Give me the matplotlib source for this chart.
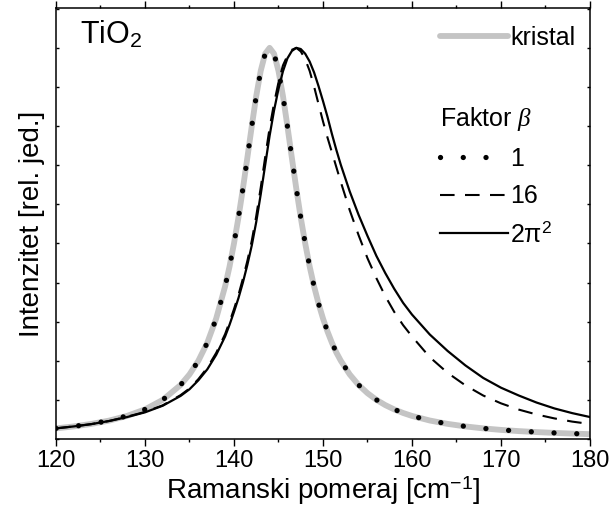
#!/usr/bin/env python3
import matplotlib
matplotlib.use('Agg')
import matplotlib.pyplot as plt
from matplotlib.ticker import MultipleLocator

plt.rcParams['font.family'] = ['Liberation Sans', 'DejaVu Sans']
plt.rcParams['mathtext.fontset'] = 'custom'
plt.rcParams['mathtext.rm'] = 'Liberation Sans'
plt.rcParams['mathtext.it'] = 'Liberation Serif:italic'
plt.rcParams['mathtext.bf'] = 'Liberation Sans:bold'

# Raman shift grid [cm^-1]
shift = [120, 122, 124, 126, 128, 130, 132, 134, 135, 136, 137, 138, 139,
         139.5, 140, 140.5, 141, 141.5, 142, 142.5, 143, 143.5, 144, 144.5,
         145, 145.5, 146, 146.5, 147, 147.5, 148, 148.5, 149, 149.5, 150,
         150.5, 151, 151.5, 152, 153, 154, 155, 156, 157, 158, 159, 160,
         162, 164, 166, 168, 170, 172, 174, 176, 178, 180]

# intensities (normalized)
kristal = [0.027, 0.032, 0.0385, 0.047, 0.059, 0.0755, 0.100, 0.138, 0.165,
           0.200, 0.246, 0.308, 0.390, 0.441, 0.500, 0.566, 0.640, 0.719,
           0.800, 0.877, 0.941, 0.985, 1.000, 0.985, 0.941, 0.877, 0.800,
           0.719, 0.640, 0.566, 0.500, 0.441, 0.390, 0.346, 0.308, 0.275,
           0.246, 0.221, 0.200, 0.165, 0.138, 0.117, 0.100, 0.0865, 0.0755,
           0.0664, 0.0588, 0.0471, 0.0385, 0.032, 0.027, 0.0231, 0.020,
           0.0175, 0.0154, 0.0137, 0.0122]

beta_1 = [0.027, 0.032, 0.0385, 0.047, 0.059, 0.0755, 0.100, 0.138, 0.165,
          0.200, 0.246, 0.308, 0.390, 0.441, 0.500, 0.566, 0.640, 0.719,
          0.800, 0.877, 0.941, 0.985, 1.000, 0.985, 0.941, 0.877, 0.800,
          0.719, 0.640, 0.566, 0.500, 0.441, 0.390, 0.346, 0.308, 0.275,
          0.246, 0.221, 0.200, 0.165, 0.138, 0.117, 0.100, 0.0865, 0.0755,
          0.0664, 0.0588, 0.0471, 0.0385, 0.032, 0.027, 0.0231, 0.020,
          0.0175, 0.0154, 0.0137, 0.0122]

beta_16 = [0.027, 0.032, 0.038, 0.046, 0.057, 0.069, 0.086, 0.112, 0.129,
           0.153, 0.182, 0.220, 0.268, 0.299, 0.332, 0.368, 0.410, 0.455,
           0.507, 0.570, 0.642, 0.720, 0.795, 0.858, 0.912, 0.955, 0.980,
           0.995, 1.000, 0.991, 0.971, 0.941, 0.901, 0.856, 0.812, 0.771,
           0.733, 0.695, 0.657, 0.585, 0.521, 0.462, 0.411, 0.365, 0.325,
           0.291, 0.262, 0.209, 0.169, 0.137, 0.111, 0.091, 0.075, 0.0625,
           0.0525, 0.0443, 0.0382]

beta_2pi2 = [0.027, 0.032, 0.038, 0.046, 0.056, 0.068, 0.085, 0.110, 0.127,
             0.150, 0.178, 0.215, 0.262, 0.292, 0.325, 0.360, 0.400, 0.445,
             0.495, 0.555, 0.625, 0.700, 0.775, 0.840, 0.895, 0.940, 0.973,
             0.992, 1.000, 0.997, 0.985, 0.965, 0.937, 0.902, 0.864, 0.824,
             0.780, 0.739, 0.701, 0.633, 0.573, 0.519, 0.468, 0.424, 0.384,
             0.348, 0.318, 0.267, 0.225, 0.188, 0.156, 0.131, 0.111, 0.093,
             0.078, 0.066, 0.056]

fig = plt.figure(figsize=(6.1, 5.17), dpi=100)
ax = fig.add_axes([0.0918, 0.151, 0.8754, 0.8336])

k, = ax.plot(shift, kristal, color='#c4c4c4', lw=4.2, solid_capstyle='round')
d1, = ax.plot(shift, beta_1, color='black', lw=3.8, linestyle=(0, (0.01, 4.3)),
              dash_capstyle='round')
d16, = ax.plot(shift, beta_16, color='black', lw=1.5, linestyle=(0, (7, 5)))
d2, = ax.plot(shift, beta_2pi2, color='black', lw=1.6)

ax.set_xlim(120, 180)
ax.set_ylim(0, 1.102)
ax.xaxis.set_major_locator(MultipleLocator(10))
ax.xaxis.set_minor_locator(MultipleLocator(5))
ax.yaxis.set_major_locator(MultipleLocator(0.1))
ax.tick_params(axis='x', which='major', direction='out', length=5, width=1,
               top=True, labelsize=17, pad=3)
ax.tick_params(axis='x', which='minor', direction='out', length=2.5, width=1,
               top=True)
ax.tick_params(axis='y', which='major', direction='in', length=2.5, width=1,
               right=True, labelleft=False)
for s in ax.spines.values():
    s.set_linewidth(1.1)

ax.set_xlabel('Ramanski pomeraj [cm$^{-1}$]', fontsize=20, labelpad=2)
ax.set_ylabel('Intenzitet [rel. jed.]', fontsize=20, labelpad=8)

ax.text(0.045, 0.975, 'TiO$_2$', transform=ax.transAxes, fontsize=22,
        va='top', ha='left')

leg1 = ax.legend([k], ['kristal'], loc='upper left', bbox_to_anchor=(0.72, 0.958),
                 frameon=False, fontsize=18, handlelength=2.7, handletextpad=0.1,
                 borderaxespad=0, borderpad=0)
ax.add_artist(leg1)
leg2 = ax.legend([d1, d16, d2], ['1', '16', '2π$^2$'], title='Faktor $\\beta$',
                 loc='upper left', bbox_to_anchor=(0.72, 0.775), frameon=False,
                 fontsize=18, title_fontsize=18, handlelength=2.7,
                 handletextpad=0.1, labelspacing=0.55, borderaxespad=0,
                 borderpad=0, alignment='left')

fig.savefig('out.png', dpi=100)
